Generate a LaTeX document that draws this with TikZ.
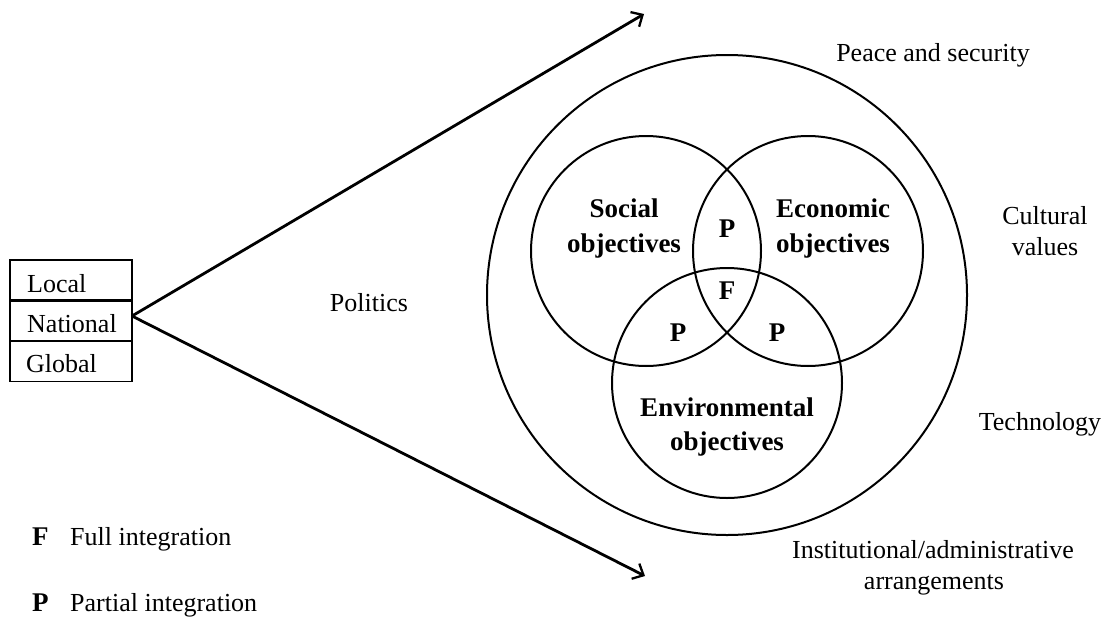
\documentclass[tikz,border=0pt]{standalone}
\usepackage{fontspec}
\setmainfont{Liberation Serif}
\usetikzlibrary{arrows.meta}
\tikzset{
  lab/.style={inner sep=0pt, anchor=base, font=\fontsize{26}{30}\selectfont},
  blab/.style={inner sep=0pt, anchor=base, font=\fontsize{27}{32}\selectfont\bfseries},
  llab/.style={inner sep=0pt, anchor=base west, font=\fontsize{26}{30}\selectfont},
  circ/.style={circle, draw, line width=2pt, inner sep=0pt},
  levelbox/.style={draw, line width=1.9pt, minimum width=122pt, minimum height=40pt,
    inner sep=0pt, font=\fontsize{26}{30}\selectfont},
  arrowline/.style={line width=2.8pt, -{Straight Barb[length=9pt,width=17pt,line width=2.3pt]}}
}
\begin{document}
\begin{tikzpicture}[x=1pt,y=-1pt]
\useasboundingbox (0,0) rectangle (1103,616);
% level boxes
\node[levelbox] (local) at (71,280) {};
\node[levelbox] (national) at (71,321) {};
\node[levelbox] (global) at (71,361.5) {};
\node[llab] (tlocal) at (27,292) {Local};
\node[llab] (tnational) at (27,332) {National};
\node[llab] (tglobal) at (26,372) {Global};
% arrows
\coordinate (apex) at (132,316);
\coordinate (toptip) at (644,14);
\coordinate (bottip) at (645,576);
\draw[arrowline] (apex) -- (toptip);
\draw[arrowline] (apex) -- (bottip);
\node[lab] (politics) at (369,311) {Politics};
% circles
\node[circ, minimum size=480pt] (outer) at (727,295) {};
\node[circ, minimum size=230pt] (social) at (646,251) {};
\node[circ, minimum size=230pt] (economic) at (808,251) {};
\node[circ, minimum size=230pt] (environ) at (727,383) {};
% circle labels
\node[blab] (soc1) at (624,217) {Social};
\node[blab] (soc2) at (624,252) {objectives};
\node[blab] (eco1) at (833,217) {Economic};
\node[blab] (eco2) at (833,252) {objectives};
\node[blab] (env1) at (727,416) {Environmental};
\node[blab] (env2) at (727,450) {objectives};
\node[blab] (ptop) at (727,237) {P};
\node[blab] (full) at (727,299) {F};
\node[blab] (pleft) at (678,341) {P};
\node[blab] (pright) at (777,341) {P};
% context labels
\node[lab] (peace) at (933,61) {Peace and security};
\node[lab] (cult1) at (1045,224) {Cultural};
\node[lab] (cult2) at (1045,255) {values};
\node[lab] (tech) at (1040,430) {Technology};
\node[lab] (inst1) at (933,558) {Institutional/administrative};
\node[lab] (inst2) at (934,589) {arrangements};
% legend
\node[llab, font=\fontsize{27}{32}\selectfont\bfseries] (legF) at (32,545) {F};
\node[llab] (legFt) at (70,545) {Full integration};
\node[llab, font=\fontsize{27}{32}\selectfont\bfseries] (legP) at (32,611) {P};
\node[llab] (legPt) at (70,611) {Partial integration};
\end{tikzpicture}
\end{document}
